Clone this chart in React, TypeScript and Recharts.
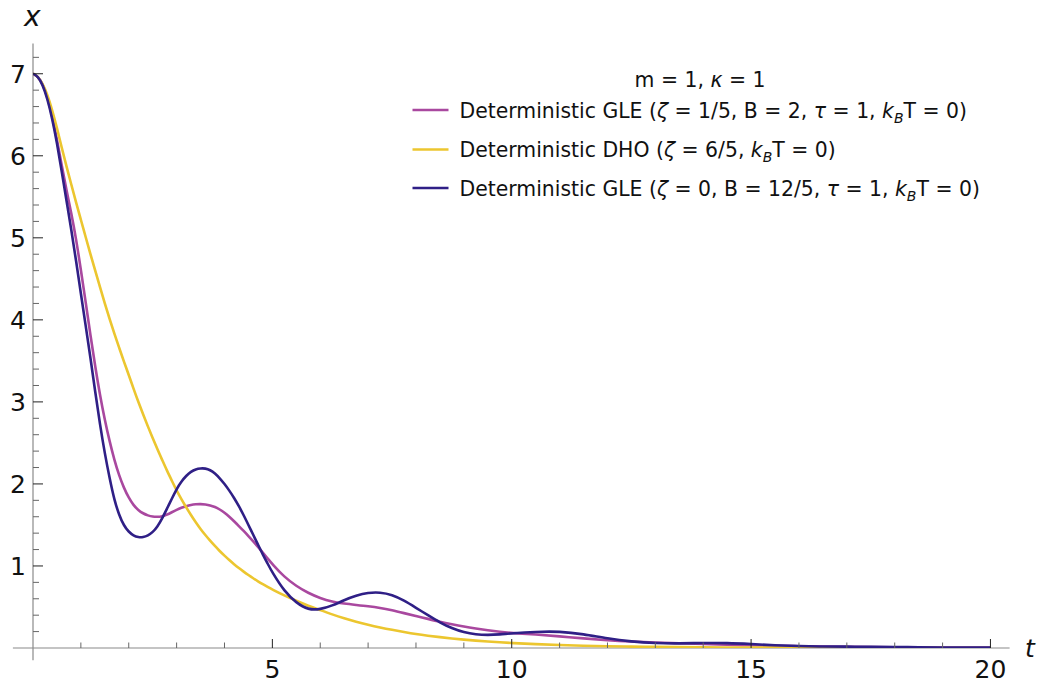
import { LineChart, Line, XAxis, YAxis, ReferenceLine } from 'recharts';

// time samples (t), shared by all three series
const T = [
    0, 0.1, 0.2, 0.3, 0.4, 0.5, 0.6, 0.7, 0.8, 0.9,
    1, 1.1, 1.2, 1.3, 1.4, 1.5, 1.6, 1.7, 1.8, 1.9,
    2, 2.1, 2.2, 2.3, 2.4, 2.5, 2.6, 2.7, 2.8, 2.9,
    3, 3.1, 3.2, 3.3, 3.4, 3.5, 3.6, 3.7, 3.8, 3.9,
    4, 4.1, 4.2, 4.3, 4.4, 4.5, 4.6, 4.7, 4.8, 4.9, 5,
    5.25, 5.5, 5.75, 6, 6.25, 6.5, 6.75, 7, 7.25, 7.5,
    7.75, 8, 8.25, 8.5, 8.75, 9, 9.25, 9.5, 9.75, 10,
    10.5, 11, 11.5, 12, 12.5, 13, 13.5, 14, 14.5, 15,
    15.5, 16, 16.5, 17, 17.5, 18, 18.5, 19, 19.5, 20,
];

// Deterministic GLE (zeta = 1/5, B = 2, tau = 1)
const GLE_DAMPED = [
    7.0, 6.97, 6.88, 6.72, 6.49, 6.2, 5.88, 5.58, 5.3, 4.99,
    4.61, 4.22, 3.81, 3.43, 3.08, 2.78, 2.52, 2.29, 2.1, 1.95,
    1.83, 1.74, 1.68, 1.64, 1.615, 1.6, 1.598, 1.605, 1.625, 1.655,
    1.685, 1.71, 1.73, 1.745, 1.752, 1.755, 1.75, 1.74, 1.72, 1.69,
    1.65, 1.6, 1.545, 1.487, 1.427, 1.365, 1.3, 1.232, 1.163, 1.093, 1.023,
    0.865, 0.755, 0.67, 0.607, 0.565, 0.54, 0.525, 0.51, 0.49, 0.46,
    0.425, 0.39, 0.355, 0.32, 0.29, 0.262, 0.238, 0.216, 0.197, 0.182,
    0.165, 0.142, 0.117, 0.094, 0.078, 0.066, 0.057, 0.048, 0.04, 0.033,
    0.027, 0.022, 0.018, 0.014, 0.011, 0.009, 0.007, 0.006, 0.005, 0.004,
];

// Deterministic DHO (zeta = 6/5)
const DHO = [
    7.0, 6.97, 6.88, 6.75, 6.56, 6.34, 6.1, 5.87, 5.65, 5.43,
    5.22, 5.01, 4.8, 4.6, 4.4, 4.2, 4.01, 3.83, 3.66, 3.49,
    3.33, 3.16, 3.0, 2.85, 2.7, 2.56, 2.42, 2.29, 2.16, 2.04,
    1.92, 1.815, 1.715, 1.62, 1.532, 1.45, 1.377, 1.308, 1.243, 1.182,
    1.125, 1.071, 1.021, 0.974, 0.93, 0.889, 0.85, 0.813, 0.778, 0.745, 0.713,
    0.64, 0.574, 0.515, 0.462, 0.409, 0.362, 0.32, 0.283, 0.25, 0.221,
    0.195, 0.17, 0.15, 0.132, 0.116, 0.102, 0.09, 0.079, 0.069, 0.061,
    0.047, 0.036, 0.028, 0.022, 0.017, 0.013, 0.01, 0.008, 0.006, 0.005,
    0.004, 0.003, 0.002, 0.002, 0.001, 0.001, 0.001, 0.001, 0, 0,
];

// Deterministic GLE (zeta = 0, B = 12/5, tau = 1)
const GLE_UNDAMPED = [
    7.0, 6.97, 6.87, 6.7, 6.46, 6.16, 5.81, 5.45, 5.1, 4.72,
    4.32, 3.93, 3.54, 3.12, 2.72, 2.37, 2.07, 1.8, 1.62, 1.49,
    1.415, 1.37, 1.35, 1.35, 1.37, 1.41, 1.48, 1.58, 1.7, 1.82,
    1.94, 2.03, 2.1, 2.15, 2.18, 2.19, 2.19, 2.17, 2.13, 2.07,
    2.0, 1.92, 1.83, 1.73, 1.62, 1.5, 1.38, 1.26, 1.14, 1.03, 0.92,
    0.69, 0.55, 0.465, 0.47, 0.515, 0.585, 0.64, 0.675, 0.68, 0.65,
    0.58, 0.49, 0.4, 0.31, 0.24, 0.19, 0.165, 0.158, 0.165, 0.18,
    0.198, 0.203, 0.17, 0.115, 0.078, 0.058, 0.055, 0.062, 0.062, 0.048,
    0.033, 0.023, 0.018, 0.016, 0.015, 0.012, 0.009, 0.007, 0.005, 0.004,
];

const X_TICKS = [1, 2, 3, 4, 5, 6, 7, 8, 9, 10, 11, 12, 13, 14, 15, 16, 17, 18, 19, 20];
const X_LABELS = [5, 10, 15, 20];
const Y_TICKS = Array.from({ length: 36 }, (_, i) => Math.round((i + 1) * 2) / 10);
const Y_LABELS = [1, 2, 3, 4, 5, 6, 7];

const COLORS = {
    damped: '#a9489f',
    dho: '#ecc62f',
    undamped: '#2f1f86',
};

const FONT = '"DejaVu Sans", Verdana, sans-serif';
const AXIS_GREY = '#8a8a8a';

const chartData = T.map((t, i) => ({
    t,
    damped: GLE_DAMPED[i],
    dho: DHO[i],
    undamped: GLE_UNDAMPED[i],
}));

// ticks point inwards (Mathematica style), labels only on the major ones
const XTick = ({ x, y, payload }: any) => {
    const v = payload.value;
    const major = X_LABELS.includes(v);
    return (
        <g>
            <line x1={x} x2={x} y1={y} y2={y - (major ? 9 : 5.5)} stroke={major ? '#222' : '#666'} strokeWidth={1} />
            {major && (
                <text x={x} y={y + 30} textAnchor="middle" fontSize={25} fontFamily={FONT} fill="#111">
                    {v}
                </text>
            )}
        </g>
    );
};

const YTick = ({ x, y, payload }: any) => {
    const v = payload.value;
    const major = Y_LABELS.some((m) => Math.abs(m - v) < 1e-6);
    return (
        <g>
            <line x1={x} x2={x + (major ? 10 : 6)} y1={y} y2={y} stroke={major ? '#222' : '#666'} strokeWidth={1} />
            {major && (
                <text x={x - 7} y={y + 9} textAnchor="end" fontSize={25} fontFamily={FONT} fill="#111">
                    {Math.round(v)}
                </text>
            )}
        </g>
    );
};

const LegendRow = ({ y, color, children }: { y: number; color: string; children: React.ReactNode }) => (
    <g>
        <line x1={412.5} x2={448.5} y1={y - 7.5} y2={y - 7.5} stroke={color} strokeWidth={2.6} />
        <text x={459.5} y={y} fontSize={20.4} fontFamily={FONT} fill="#111">
            {children}
        </text>
    </g>
);

const KbT = () => (
    <>
        <tspan fontStyle="italic">k</tspan>
        <tspan fontStyle="italic" fontSize={14} dy={5}>B</tspan>
        <tspan dy={-5}>{'T = 0)'}</tspan>
    </>
);

export default function App() {
    return (
        <div style={{ position: 'absolute', left: 0, top: 0, width: 1040, height: 684, background: '#fff' }}>
            <LineChart
                width={1040}
                height={684}
                data={chartData}
                margin={{ top: 43.4, right: 30.4, bottom: 0, left: 0 }}
            >
                <XAxis
                    type="number"
                    dataKey="t"
                    domain={[0, 20.4]}
                    ticks={X_TICKS}
                    interval={0}
                    height={36}
                    axisLine={false}
                    tickLine={false}
                    tickSize={0}
                    tickMargin={0}
                    tick={XTick}
                    allowDataOverflow
                />
                <YAxis
                    type="number"
                    domain={[0, 7.37]}
                    ticks={Y_TICKS}
                    interval={0}
                    width={33}
                    axisLine={false}
                    tickLine={false}
                    tickSize={0}
                    tickMargin={0}
                    tick={YTick}
                    allowDataOverflow
                />
                <ReferenceLine
                    segment={[{ x: -0.42, y: 0 }, { x: 20.4, y: 0 }]}
                    stroke={AXIS_GREY}
                    strokeWidth={1.2}
                    ifOverflow="visible"
                />
                <ReferenceLine
                    segment={[{ x: 0, y: -0.15 }, { x: 0, y: 7.37 }]}
                    stroke={AXIS_GREY}
                    strokeWidth={1.2}
                    ifOverflow="visible"
                />
                <Line type="basis" dataKey="damped" stroke={COLORS.damped} strokeWidth={2.6} dot={false} isAnimationActive={false} />
                <Line type="basis" dataKey="dho" stroke={COLORS.dho} strokeWidth={2.6} dot={false} isAnimationActive={false} />
                <Line type="basis" dataKey="undamped" stroke={COLORS.undamped} strokeWidth={2.6} dot={false} isAnimationActive={false} />
            </LineChart>

            <svg
                width={1040}
                height={684}
                style={{ position: 'absolute', left: 0, top: 0, pointerEvents: 'none' }}
            >
                <text x={24} y={26} fontSize={28} fontStyle="italic" fontFamily={FONT} fill="#111">x</text>
                <text x={1025} y={657} fontSize={25} fontStyle="italic" fontFamily={FONT} fill="#111">t</text>

                <text x={700} y={87} fontSize={20.4} fontFamily={FONT} fill="#111" textAnchor="middle">
                    {'m = 1, '}<tspan fontStyle="italic">κ</tspan>{' = 1'}
                </text>
                <LegendRow y={117.5} color={COLORS.damped}>
                    {'Deterministic GLE ('}<tspan fontStyle="italic">ζ</tspan>{' = 1/5, B = 2, '}
                    <tspan fontStyle="italic">τ</tspan>{' = 1, '}<KbT />
                </LegendRow>
                <LegendRow y={157} color={COLORS.dho}>
                    {'Deterministic DHO ('}<tspan fontStyle="italic">ζ</tspan>{' = 6/5, '}<KbT />
                </LegendRow>
                <LegendRow y={195.5} color={COLORS.undamped}>
                    {'Deterministic GLE ('}<tspan fontStyle="italic">ζ</tspan>{' = 0, B = 12/5, '}
                    <tspan fontStyle="italic">τ</tspan>{' = 1, '}<KbT />
                </LegendRow>
            </svg>
        </div>
    );
}
